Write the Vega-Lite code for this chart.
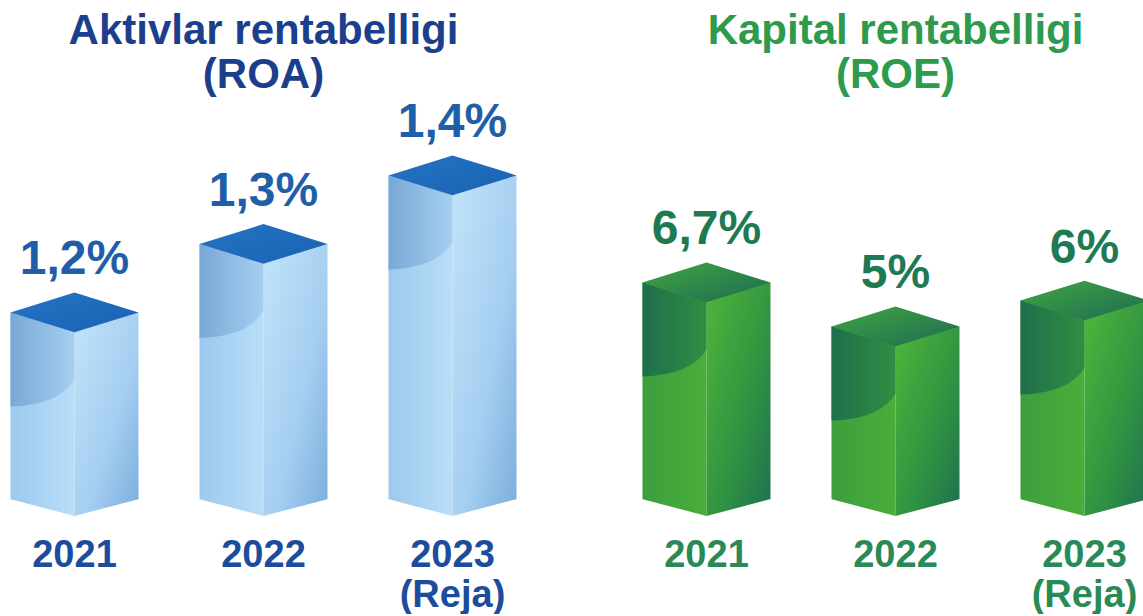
{
  "$schema": "https://vega.github.io/schema/vega-lite/v6.json",
  "background": "white",
  "padding": {"left": -20, "top": 10, "right": 0, "bottom": 0},
  "spacing": 65,
  "config": {"view": {"stroke": null}, "font": "Liberation Sans"},
  "datasets": {
    "roa": [
      {"year": "2021", "value": 1.2, "label": "1,2%"},
      {"year": "2022", "value": 1.3, "label": "1,3%"},
      {"year": "2023", "value": 1.4, "label": "1,4%"}
    ],
    "roe": [
      {"year": "2021", "value": 6.7, "label": "6,7%"},
      {"year": "2022", "value": 5, "label": "5%"},
      {"year": "2023", "value": 6, "label": "6%"}
    ]
  },
  "hconcat": [
    {
      "width": 567,
      "height": 440,
      "data": {"name": "roa"},
      "title": {"text": ["Aktivlar rentabelligi", "(ROA)"], "frame": "group", "fontSize": 42, "fontWeight": "bold", "color": "#1b3f8c", "lineHeight": 44, "anchor": "middle", "offset": -21},
      "encoding": {
        "x": {"field": "year", "type": "nominal", "sort": null, "scale": {"paddingInner": 0, "paddingOuter": 0},
          "axis": {"title": null, "domain": false, "ticks": false, "grid": false, "labelAngle": 0, "labelFontSize": 38, "labelFontWeight": "bold", "labelColor": "#1b4d9c", "labelPadding": 20, "labelLineHeight": 40, "labelBaseline": "top", "labelExpr": "datum.value == '2023' ? ['2023', '(Reja)'] : datum.value"}},
        "y": {"field": "value", "type": "quantitative", "scale": {"domain": [0.903, 1.545], "zero": false, "nice": false}, "axis": null}
      },
      "layer": [
        {"mark": {"type": "bar", "width": 64, "xOffset": -32, "color": {"gradient": "linear", "x1": 0, "y1": 0, "x2": 1, "y2": 0, "stops": [{"offset": 0, "color": "#9cc9ee"}, {"offset": 1, "color": "#b9def8"}]}}, "encoding": {"y2": {"datum": 0.903}}},
        {"mark": {"type": "bar", "width": 64, "xOffset": 32, "color": {"gradient": "linear", "x1": 0, "y1": 0, "x2": 1, "y2": 1, "stops": [{"offset": 0, "color": "#c2e4fa"}, {"offset": 0.6, "color": "#a4cdf0"}, {"offset": 1, "color": "#7aacdc"}]}}, "encoding": {"y2": {"datum": 0.903}}},
        {"mark": {"type": "point", "shape": "M -1 0 L 0 0.31 L 0 1.05 Q -0.25 1.45 -1 1.47 Z", "size": 16384, "filled": true, "opacity": 1, "strokeWidth": 0, "color": {"gradient": "linear", "x1": 0, "y1": 0, "x2": 1, "y2": 0, "stops": [{"offset": 0, "color": "#78a8d6"}, {"offset": 1, "color": "#a6cff1"}]}}},
        {"mark": {"type": "point", "shape": "M -1 0 L 0 -0.31 L 1 0 L 0 0.31 Z", "size": 16384, "filled": true, "opacity": 1, "strokeWidth": 0, "color": {"gradient": "linear", "x1": 0, "y1": 0, "x2": 1, "y2": 1, "stops": [{"offset": 0, "color": "#2474c4"}, {"offset": 1, "color": "#1a62b2"}]}}},
        {"mark": {"type": "point", "shape": "M -1.1 -0.29 L 0 0 L 1.1 -0.29 L 1.1 0.15 L -1.1 0.15 Z", "size": 16384, "filled": true, "opacity": 1, "strokeWidth": 0, "color": "white"}, "encoding": {"y": {"datum": 0.903}}},
        {"mark": {"type": "text", "dy": -38, "baseline": "alphabetic", "fontSize": 48, "fontWeight": "bold", "color": "#1f5ea8"}, "encoding": {"text": {"field": "label"}}}
      ]
    },
    {
      "width": 567,
      "height": 440,
      "data": {"name": "roe"},
      "title": {"text": ["Kapital rentabelligi", "(ROE)"], "frame": "group", "fontSize": 42, "fontWeight": "bold", "color": "#2e9a4b", "lineHeight": 44, "anchor": "middle", "offset": -21},
      "encoding": {
        "x": {"field": "year", "type": "nominal", "sort": null, "scale": {"paddingInner": 0, "paddingOuter": 0},
          "axis": {"title": null, "domain": false, "ticks": false, "grid": false, "labelAngle": 0, "labelFontSize": 38, "labelFontWeight": "bold", "labelColor": "#2a8a55", "labelPadding": 20, "labelLineHeight": 40, "labelBaseline": "top", "labelExpr": "datum.value == '2023' ? ['2023', '(Reja)'] : datum.value"}},
        "y": {"field": "value", "type": "quantitative", "scale": {"domain": [-2.32, 14.67], "zero": false, "nice": false}, "axis": null}
      },
      "layer": [
        {"mark": {"type": "bar", "width": 64, "xOffset": -32, "color": {"gradient": "linear", "x1": 0, "y1": 0, "x2": 1, "y2": 0, "stops": [{"offset": 0, "color": "#3c9e3e"}, {"offset": 1, "color": "#4aae3a"}]}}, "encoding": {"y2": {"datum": -2.32}}},
        {"mark": {"type": "bar", "width": 64, "xOffset": 32, "color": {"gradient": "linear", "x1": 0, "y1": 0, "x2": 1, "y2": 1, "stops": [{"offset": 0, "color": "#4fb63a"}, {"offset": 0.6, "color": "#2f9242"}, {"offset": 1, "color": "#1f7050"}]}}, "encoding": {"y2": {"datum": -2.32}}},
        {"mark": {"type": "point", "shape": "M -1 0 L 0 0.31 L 0 1.05 Q -0.25 1.45 -1 1.47 Z", "size": 16384, "filled": true, "opacity": 1, "strokeWidth": 0, "color": {"gradient": "linear", "x1": 0, "y1": 0, "x2": 1, "y2": 0, "stops": [{"offset": 0, "color": "#1f6f4c"}, {"offset": 1, "color": "#2f8e42"}]}}},
        {"mark": {"type": "point", "shape": "M -1 0 L 0 -0.31 L 1 0 L 0 0.31 Z", "size": 16384, "filled": true, "opacity": 1, "strokeWidth": 0, "color": {"gradient": "linear", "x1": 0, "y1": 0, "x2": 1, "y2": 1, "stops": [{"offset": 0, "color": "#40a642"}, {"offset": 1, "color": "#1e6b52"}]}}},
        {"mark": {"type": "point", "shape": "M -1.1 -0.29 L 0 0 L 1.1 -0.29 L 1.1 0.15 L -1.1 0.15 Z", "size": 16384, "filled": true, "opacity": 1, "strokeWidth": 0, "color": "white"}, "encoding": {"y": {"datum": -2.32}}},
        {"mark": {"type": "text", "dy": -38, "baseline": "alphabetic", "fontSize": 48, "fontWeight": "bold", "color": "#1e7a52"}, "encoding": {"text": {"field": "label"}}}
      ]
    }
  ]
}
